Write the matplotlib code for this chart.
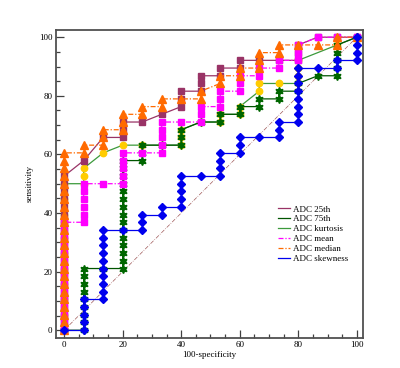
import matplotlib
matplotlib.use("Agg")
import matplotlib.pyplot as plt
from matplotlib.lines import Line2D

N_NEG = 15   # negatives -> 100-specificity steps
N_POS = 38   # positives -> sensitivity steps

# ROC points as (false positive count, true positive count)
adc_25th = [(0, k) for k in (0, 1, 2, 3, 4, 5, 6, 7, 8, 9, 10, 11, 12, 13, 14, 15, 16, 17, 18, 19, 20)] + [
    (1, 22), (2, 25), (3, 25), (3, 26), (3, 27), (4, 27), (5, 28), (6, 29), (6, 30), (6, 31),
    (7, 31), (7, 32), (7, 33), (8, 33), (8, 34), (9, 34), (9, 35), (10, 35), (11, 35), (12, 35),
    (12, 36), (12, 37), (13, 38), (14, 38), (15, 38)]

adc_75th = [(0, 0), (1, 0), (1, 1), (1, 2), (1, 3), (1, 4), (1, 5), (1, 6), (1, 7), (1, 8),
            (2, 8), (3, 8), (3, 9), (3, 10), (3, 11), (3, 12), (3, 13), (3, 14), (3, 15), (3, 16),
            (3, 17), (3, 18), (3, 19), (3, 20), (3, 21), (3, 22), (4, 22), (4, 23), (4, 24), (5, 24),
            (6, 24), (6, 25), (6, 26), (7, 27), (8, 27), (8, 28), (9, 28), (9, 29), (10, 29), (10, 30),
            (11, 30), (11, 31), (12, 31), (12, 32), (13, 33), (14, 33), (14, 34), (14, 35), (14, 36),
            (14, 37), (15, 38)]

adc_kurtosis = [(0, 0), (0, 2), (0, 4), (0, 6), (0, 8), (0, 10), (0, 12), (0, 14), (0, 15), (0, 17),
                (0, 19), (1, 19), (1, 20), (1, 21), (2, 23), (3, 24), (4, 24), (5, 24), (6, 24),
                (6, 25), (6, 26), (7, 27), (8, 27), (8, 28), (9, 28), (9, 29), (10, 31), (10, 32),
                (11, 32), (12, 32), (12, 33), (12, 34), (12, 35), (14, 37), (15, 38)]

adc_mean = [(0, k) for k in (0, 1, 2, 3, 4, 5, 6, 7, 8, 9, 10, 11, 12, 13, 14)] + [
    (1, 14), (1, 15), (1, 16), (1, 17), (1, 18), (1, 19), (2, 19), (3, 19), (3, 20), (3, 21),
    (3, 22), (3, 23), (4, 23), (5, 23), (5, 24), (5, 25), (5, 26), (5, 27), (6, 27), (7, 27),
    (7, 28), (7, 29), (8, 29), (8, 30), (8, 31), (9, 31), (9, 32), (9, 33), (10, 33), (10, 34),
    (11, 34), (11, 35), (12, 35), (12, 36), (12, 37), (13, 38), (14, 38), (15, 38)]

adc_median = [(0, k) for k in (0, 1, 2, 3, 4, 5, 6, 7, 8, 9, 10, 11, 12, 13, 14, 15, 16, 17, 18,
                               19, 20, 21, 22, 23)] + [
    (1, 23), (1, 24), (2, 24), (2, 25), (2, 26), (3, 26), (3, 27), (3, 28), (4, 28), (4, 29),
    (5, 29), (5, 30), (6, 30), (7, 30), (7, 31), (8, 32), (8, 33), (9, 33), (9, 34), (10, 34),
    (10, 35), (10, 36), (11, 36), (11, 37), (12, 37), (13, 37), (14, 37), (14, 38), (15, 38)]

adc_skewness = [(0, 0), (1, 0), (1, 1), (1, 2), (1, 3), (1, 4), (2, 4), (2, 5), (2, 6), (2, 7),
                (2, 8), (2, 9), (2, 10), (2, 11), (2, 12), (2, 13), (3, 13), (4, 13), (4, 14), (4, 15),
                (5, 15), (5, 16), (6, 16), (6, 17), (6, 18), (6, 19), (6, 20), (7, 20), (8, 20),
                (8, 21), (8, 22), (8, 23), (9, 23), (9, 24), (9, 25), (10, 25), (11, 25), (11, 26),
                (11, 27), (12, 27), (12, 28), (12, 29), (12, 30), (12, 31), (12, 32), (12, 33),
                (12, 34), (13, 34), (14, 34), (14, 35), (15, 35), (15, 36), (15, 37), (15, 38)]

labels = ["ADC 25th", "ADC 75th", "ADC kurtosis", "ADC mean", "ADC median", "ADC skewness"]
line_colors = ["#993366", "#005500", "#3c9a3c", "#ff00ff", "#ff6a00", "#0000ee"]
face_colors = ["#993366", "#006600", "#ffcc00", "#ff00ff", "#ff6a00", "#0000ee"]
markers = ["s", (6, 1, 0), "o", "s", "^", "D"]
msizes = [4.8, 5.8, 4.6, 4.8, 5.3, 4.1]
styles = ["-", "-", "-", (0, (4, 1.5, 1, 1.5)), (0, (4, 1.5, 1, 1.5)), "-"]
zorders = [2.2, 2.1, 2.0, 2.3, 2.4, 2.5]

curves = [adc_25th, adc_75th, adc_kurtosis, adc_mean, adc_median, adc_skewness]

plt.rcParams["font.family"] = ["Liberation Serif", "DejaVu Serif"]

fig = plt.figure(figsize=(4.0, 3.68), dpi=100)
ax = fig.add_axes([0.14, 0.082, 0.768, 0.836])

# reference diagonal
ax.plot([0, 100], [0, 100], color="#a05a5a", lw=0.5, ls=(0, (6, 2, 1, 2)), zorder=1)

for pts, lc, fc, mk, ms, ls, z in zip(curves, line_colors, face_colors, markers, msizes, styles, zorders):
    x = [p[0] * 100 / N_NEG for p in pts]
    y = [p[1] * 100 / N_POS for p in pts]
    ax.plot(x, y, color=lc, lw=0.9, ls=ls, marker=mk, ms=ms, mfc=fc, mec=fc, zorder=z)

ax.set_xlim(-2.8, 102.2)
ax.set_ylim(-2.6, 102.4)
ax.set_xticks(range(0, 101, 20))
ax.set_yticks(range(0, 101, 20))
ax.set_xticks(range(0, 101, 5), minor=True)
ax.set_yticks(range(0, 101, 5), minor=True)
ax.tick_params(which="both", direction="in", color="#404040", labelsize=6.5, width=0.9, pad=2.5)
ax.tick_params(which="major", length=6)
ax.tick_params(which="minor", length=3)
for s in ax.spines.values():
    s.set_color("#505050")
    s.set_linewidth(1.3)

ax.set_xlabel("100-specificity", fontsize=6.5, labelpad=1)
ax.set_ylabel("sensitivity", fontsize=6.5, labelpad=4)

handles = [Line2D([], [], color=c, lw=0.9, ls=ls) for c, ls in zip(line_colors, styles)]
fig.legend(handles, labels, loc="upper left", bbox_to_anchor=(0.685, 0.452), frameon=False,
           fontsize=6.5, handlelength=1.4, handletextpad=0.3, labelspacing=0.17,
           borderaxespad=0)

fig.savefig("out.png", dpi=100)
